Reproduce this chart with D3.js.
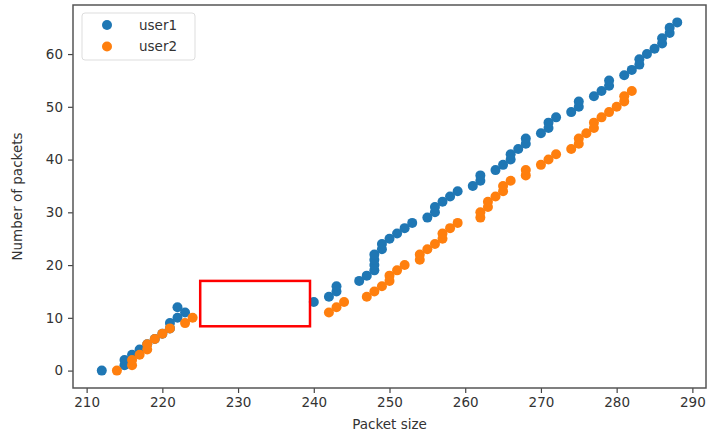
<!DOCTYPE html>
<html>
<head>
<meta charset="utf-8">
<script src="https://d3js.org/d3.v7.min.js"></script>
<style>
  body { margin: 0; background: #fff; }
  text { font-family: "DejaVu Sans", sans-serif; fill: #333; }
</style>
</head>
<body>
<script>
// packet size for each packet count
const user1Size = [212, 215, 215, 216, 217, 218, 219, 220, 221, 221, 222, 223, 222,
  240, 242, 243, 243, 246, 247, 248, 248, 248, 248, 249, 249, 250, 251, 252, 253,
  255, 256, 256, 257, 258, 259, 261, 262, 262, 264, 265, 266, 266, 267, 268, 268,
  270, 271, 271, 272, 274, 275, 275, 277, 278, 279, 279, 281, 282, 283, 283, 284,
  285, 286, 286, 287, 287, 288]
const user2Size = [214, 216, 216, 217, 218, 218, 219, 220, 221, 223, 224,
  242, 243, 244, 247, 248, 249, 250, 250, 251, 252, 254, 254, 255, 256, 257, 257,
  258, 259, 262, 262, 263, 263, 264, 265, 265, 266, 268, 268, 270, 271, 272, 274,
  275, 275, 276, 277, 277, 278, 279, 280, 281, 281, 282]
const seriesNames = ['user1', 'user2']
const xTicks = [210, 220, 230, 240, 250, 260, 270, 280, 290]
const yTicks = [0, 10, 20, 30, 40, 50, 60]
// red box drawn on the chart: [x0, x1] and [y0, y1] in data units
const boxX = [225, 239.5]
const boxY = [8.4, 17]

const width = 709
const height = 436
const margin = {left: 73, right: 3, top: 5, bottom: 48}
const colors = ['#1f77b4', '#ff7f0e']

const svg = d3.select('body').append('svg')
    .attr('width', width)
    .attr('height', height)

const x = d3.scaleLinear()
    .domain([208.2, 291.8])
    .range([margin.left, width - margin.right])
const y = d3.scaleLinear()
    .domain([-3.3, 69.3])
    .range([height - margin.bottom, margin.top])

const series = [user1Size, user2Size].map(function(sizes, i) {
    return sizes.map(function(s, n) { return {size: s, count: n, series: i} })
})

const plot = svg.append('g')
series.forEach(function(points, i) {
    plot.selectAll('circle.s' + i)
        .data(points)
        .enter()
        .append('circle')
        .attr('class', 's' + i)
        .attr('cx', function(d) { return x(d.size) })
        .attr('cy', function(d) { return y(d.count) })
        .attr('r', 5)
        .attr('fill', colors[i])
})

svg.append('rect')
    .attr('x', x(boxX[0]))
    .attr('y', y(boxY[1]))
    .attr('width', x(boxX[1]) - x(boxX[0]))
    .attr('height', y(boxY[0]) - y(boxY[1]))
    .attr('fill', 'none')
    .attr('stroke', '#ff0000')
    .attr('stroke-width', 2.5)

// axes
const xAxis = svg.append('g')
    .attr('transform', 'translate(0,' + (height - margin.bottom) + ')')
    .call(d3.axisBottom(x).tickValues(xTicks).tickSize(5).tickPadding(4))
const yAxis = svg.append('g')
    .attr('transform', 'translate(' + margin.left + ',0)')
    .call(d3.axisLeft(y).tickValues(yTicks).tickSize(5).tickPadding(5))

;[xAxis, yAxis].forEach(function(a) {
    a.select('.domain').remove()
    a.selectAll('line').attr('stroke', '#444').attr('stroke-width', 1.2)
    a.selectAll('text').attr('font-size', 13.5).attr('fill', '#333')
        .style('font-family', '"DejaVu Sans", sans-serif')
})

svg.append('rect')
    .attr('x', margin.left)
    .attr('y', margin.top)
    .attr('width', width - margin.left - margin.right)
    .attr('height', height - margin.top - margin.bottom)
    .attr('fill', 'none')
    .attr('stroke', '#555')
    .attr('stroke-width', 1.5)

svg.append('text')
    .attr('x', (margin.left + width - margin.right) / 2)
    .attr('y', 429)
    .attr('text-anchor', 'middle')
    .attr('font-size', 13.5)
    .text('Packet size')

svg.append('text')
    .attr('transform', 'translate(22,' + ((margin.top + height - margin.bottom) / 2) + ') rotate(-90)')
    .attr('text-anchor', 'middle')
    .attr('font-size', 13.5)
    .text('Number of packets')

// legend
const legend = svg.append('g')
legend.append('rect')
    .attr('x', 82)
    .attr('y', 13)
    .attr('width', 113)
    .attr('height', 47)
    .attr('rx', 3)
    .attr('fill', '#fff')
    .attr('fill-opacity', 0.8)
    .attr('stroke', '#ddd')
legend.selectAll('circle')
    .data(seriesNames)
    .enter()
    .append('circle')
    .attr('cx', 107)
    .attr('cy', function(d, i) { return 25 + i * 21.5 })
    .attr('r', 5)
    .attr('fill', function(d, i) { return colors[i] })
legend.selectAll('text')
    .data(seriesNames)
    .enter()
    .append('text')
    .attr('x', 139)
    .attr('y', function(d, i) { return 25 + i * 21.5 })
    .attr('dy', '0.35em')
    .attr('font-size', 13.5)
    .text(function(d) { return d })
</script>
</body>
</html>
